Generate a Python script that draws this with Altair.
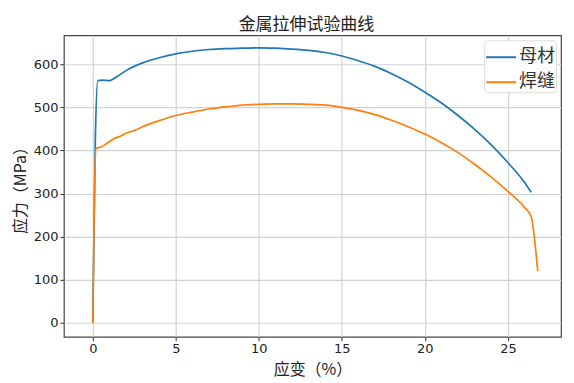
import altair as alt
import pandas as pd

base_x = [0, 0.15, 0.3, 0.6, 1.0, 1.2, 1.5, 2, 3, 4, 5, 6, 7, 8, 9, 10, 11, 12, 13, 14, 15, 16, 17, 18, 19, 20, 21, 22, 23, 24, 25, 26, 26.4]
base_y = [3, 420, 562, 563, 562, 565, 572, 585, 603, 615, 624, 630, 634, 636, 637, 638, 637, 635, 632, 627, 619, 608, 595, 578, 558, 535, 510, 481, 449, 413, 372, 326, 303]

weld_x = [0, 0.1, 0.2, 0.5, 0.8, 1.0, 1.3, 1.6, 2.0, 2.5, 3, 4, 5, 6, 7, 8, 9, 10, 11, 12, 13, 14, 15, 16, 17, 18, 19, 20, 21, 22, 23, 24, 25, 26, 26.4, 26.8]
weld_y = [0, 300, 405, 408, 415, 420, 428, 432, 440, 446, 455, 469, 481, 489, 496, 501, 505, 507, 508, 508, 507, 505, 500, 493, 483, 470, 455, 438, 418, 395, 368, 338, 305, 268, 247, 120]

series_names = ["母材", "焊缝"]
colors = ["#1f77b4", "#ff7f0e"]

rows = []
for i, (x, y) in enumerate(zip(base_x, base_y)):
    rows.append({"s": series_names[0], "x": x, "y": y, "o": i})
for i, (x, y) in enumerate(zip(weld_x, weld_y)):
    rows.append({"s": series_names[1], "x": x, "y": y, "o": i})
df = pd.DataFrame(rows)

cjk = "Noto Sans CJK SC"

chart = alt.Chart(df).mark_line(strokeWidth=1.7, interpolate="monotone").encode(
    x=alt.X("x:Q", scale=alt.Scale(domain=[-1.74, 28.2], nice=False, zero=False),
            axis=alt.Axis(values=[0, 5, 10, 15, 20, 25], title="应变（%）", format="d", titlePadding=6)),
    y=alt.Y("y:Q", scale=alt.Scale(domain=[-32, 667], nice=False, zero=False),
            axis=alt.Axis(values=[0, 100, 200, 300, 400, 500, 600], title="应力（MPa）", titlePadding=5)),
    color=alt.Color("s:N", scale=alt.Scale(domain=series_names, range=colors),
                    legend=alt.Legend(title=None, orient="top-right", offset=5,
                                      symbolType="stroke", symbolStrokeWidth=2, symbolSize=900,
                                      labelFont=cjk, labelFontSize=18, labelColor="#333",
                                      labelOffset=2,
                                      fillColor="white", strokeColor="#ddd", padding=1,
                                      cornerRadius=3, rowPadding=0)),
    order="o:Q",
).properties(
    width=498, height=302,
    padding={"left": 4, "top": 8, "right": 5, "bottom": 2},
    title=alt.Title("金属拉伸试验曲线", font=cjk, fontSize=17, fontWeight="normal", color="#222",
                    offset=1, anchor="middle", dx=-6),
).configure_view(
    stroke="#444", strokeWidth=1.2
).configure_axis(
    grid=True, gridColor="#cfd3d8", gridWidth=1.2,
    domain=False, tickColor="#333", tickSize=4,
    labelFont="DejaVu Sans", labelFontSize=13, labelColor="#222",
    titleFont=cjk, titleFontSize=16, titleFontWeight="normal", titleColor="#222",
)

chart.save("out.html", embed_options={"renderer": "svg", "actions": False})
